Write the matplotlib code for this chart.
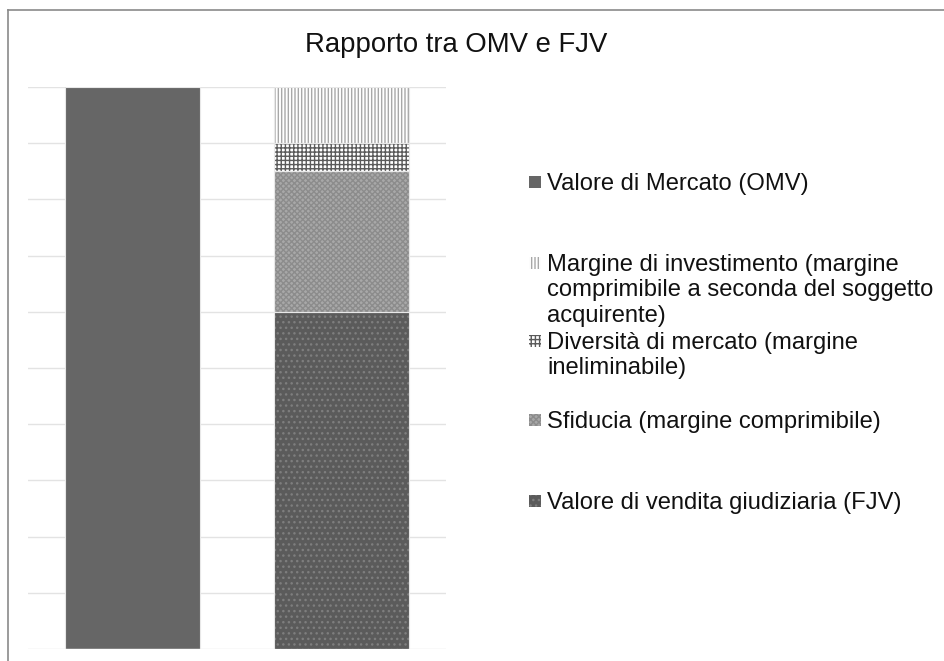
import numpy as np
import matplotlib
matplotlib.use('Agg')
import matplotlib.pyplot as plt
from matplotlib.patches import Rectangle
from matplotlib.lines import Line2D

plt.rcParams['font.family'] = ['Liberation Sans', 'DejaVu Sans']
plt.rcParams['hatch.linewidth'] = 1.0

# dati (scala 0-10)
categorie = ['OMV', 'FJV']
valore_mercato = [10, 0]
valore_fjv = [0, 6]
sfiducia = [0, 2.5]
diversita = [0, 0.5]
margine_inv = [0, 1]

etichette = ['Valore di Mercato (OMV)',
             'Margine di investimento (margine\ncomprimibile a seconda del soggetto\nacquirente)',
             'Diversità di mercato (margine\nineliminabile)',
             'Sfiducia (margine comprimibile)',
             'Valore di vendita giudiziaria (FJV)']

# stili: (facecolor, colore tratteggio, hatch)
stili = {
    'omv': ('#666666', '#666666', None),
    'fjv': ('#5b5b5b', '#7e7e7e', '...'),
    'sfid': ('#a8a8a8', '#8c8c8c', 'xxxxxx'),
    'div': ('#ffffff', '#5a5a5a', '++++'),
    'marg': ('#ffffff', '#a8a8a8', '|||||'),
}

W, H = 944, 661
fig = plt.figure(figsize=(W / 100, H / 100), dpi=100)
ax = fig.add_axes([28 / W, (H - 649) / H, 418 / W, 562 / H])

x = np.arange(len(categorie))
larg = 0.643


def barra(vals, bottom, key):
    fc, hc, ht = stili[key]
    ax.bar(x, vals, larg, bottom=bottom, color=fc, edgecolor=hc, hatch=ht,
           linewidth=0, zorder=2)
    ax.bar(x, vals, larg, bottom=bottom, fill=False, edgecolor='#e8e8e8',
           linewidth=0.8, zorder=3)


b = np.zeros(2)
barra(valore_mercato, b, 'omv')
barra(valore_fjv, b, 'fjv')
b = b + np.array(valore_fjv)
barra(sfiducia, b, 'sfid')
b = b + np.array(sfiducia)
barra(diversita, b, 'div')
b = b + np.array(diversita)
barra(margine_inv, b, 'marg')

ax.set_xlim(-0.5, 1.5)
ax.set_ylim(0, 10)
ax.set_yticks(np.arange(0, 11, 1))
ax.set_xticks([])
ax.tick_params(left=False, labelleft=False)
ax.grid(axis='y', color='#e3e3e3', linewidth=1.0, zorder=0)
ax.set_axisbelow(True)
for s in ax.spines.values():
    s.set_visible(False)

# titolo
fig.text(456 / W, (H - 52) / H, 'Rapporto tra OMV e FJV', ha='center',
         va='baseline', fontsize=19.8, color='#111111')

# legenda manuale (ordine come Excel)
chiavi = ['omv', 'marg', 'div', 'sfid', 'fjv']
top_px = [173, 254, 332, 411, 492]
for lab, k, ty in zip(etichette, chiavi, top_px):
    fc, hc, ht = stili[k]
    fig.add_artist(Rectangle((529 / W, (H - ty - 15) / H), 12 / W, 12 / H,
                             transform=fig.transFigure, facecolor=fc,
                             edgecolor=hc, hatch=ht, linewidth=0))
    fig.text(547 / W, (H - ty) / H, lab, ha='left', va='top',
             fontsize=17.1, color='#111111', linespacing=1.2)

# bordo del grafico
fig.add_artist(Line2D([8 / W, 8 / W], [0, (H - 10) / H], color='#8a8a8a',
                      linewidth=1.2, transform=fig.transFigure))
fig.add_artist(Line2D([8 / W, 1], [(H - 10) / H, (H - 10) / H], color='#8a8a8a',
                      linewidth=1.2, transform=fig.transFigure))

fig.savefig('out.png', dpi=100)
